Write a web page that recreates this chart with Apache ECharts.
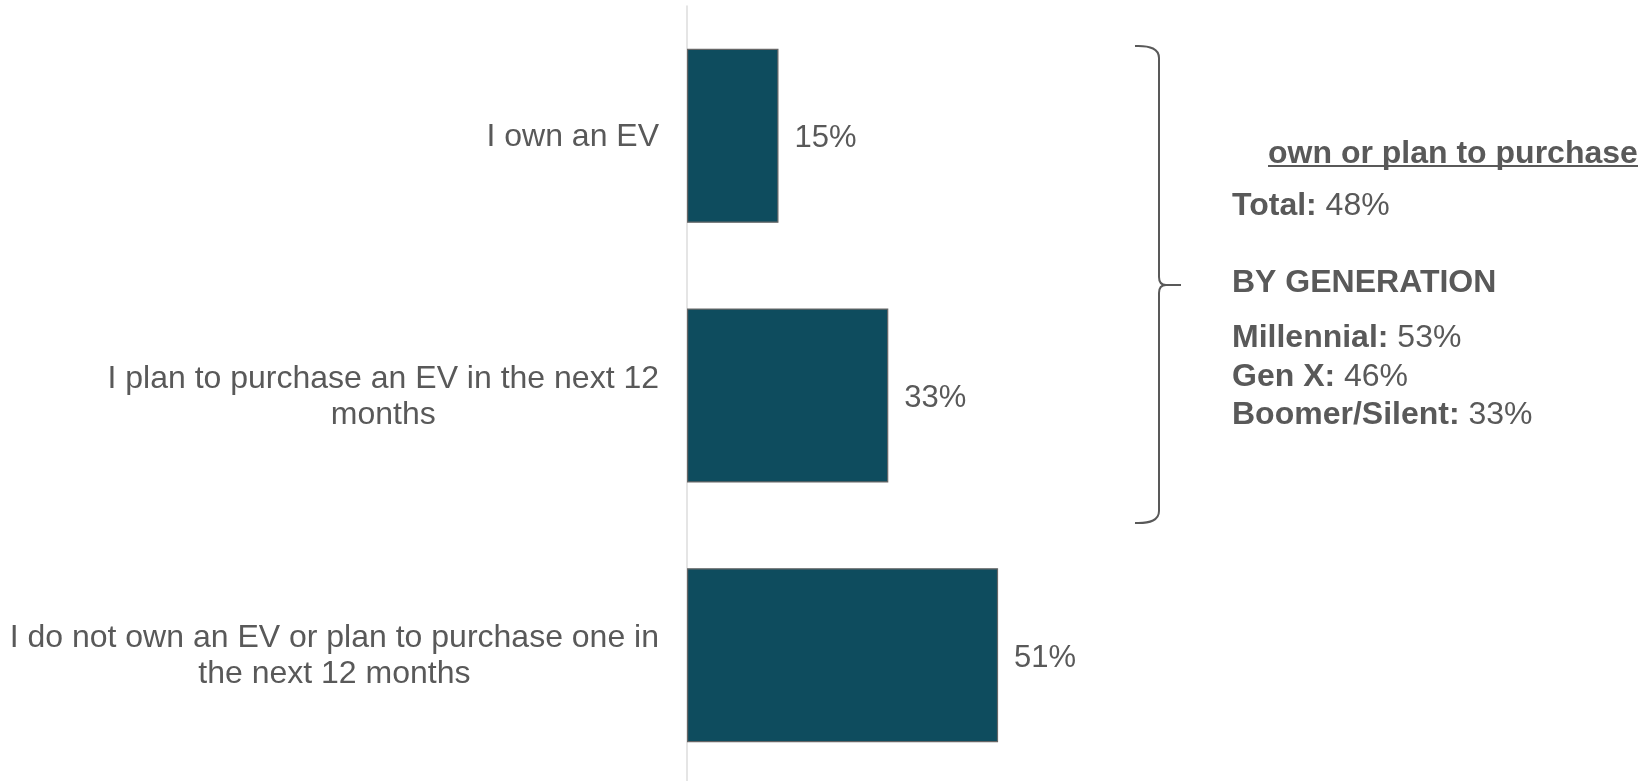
<!DOCTYPE html>
<html>
<head>
<meta charset="utf-8">
<script src="https://cdn.jsdelivr.net/npm/echarts@6/dist/echarts.min.js"></script>
<style>
  html, body { margin: 0; padding: 0; background: #ffffff; }
  #chart { width: 1651px; height: 781px; }
</style>
</head>
<body>
<div id="chart"></div>
<script>
// EV ownership / purchase intent
const categories = [
  'I own an EV',
  'I plan to purchase an EV in the next 12\nmonths',
  'I do not own an EV or plan to purchase one in\nthe next 12 months'
];
const shares = [15, 33, 51];

// Side panel: combined "own or plan to purchase" figures
const panelHeading = 'own or plan to purchase';
const totalShare = 48;
const generationHeading = 'BY GENERATION';
const generations = ['Millennial', 'Gen X', 'Boomer/Silent'];
const generationShares = [53, 46, 33];

const FONT = '"Liberation Sans", Arial, Helvetica, sans-serif';
const GREY = '#595959';

const chart = echarts.init(document.getElementById('chart'), null, { renderer: 'canvas' });

// Each wrapped category line is centred within its label block
function centredLines(value) {
  return value.split('\n').map(function (line) { return '{c|' + line + '}'; }).join('\n');
}

function sideText(boldPart, plainPart, y) {
  return {
    type: 'text',
    left: 1232,
    top: y - 14,
    style: {
      text: '{b|' + boldPart + '}' + (plainPart ? '{r| ' + plainPart + '}' : ''),
      rich: {
        b: { fontFamily: FONT, fontSize: 32, fontWeight: 'bold', fill: GREY, color: GREY, lineHeight: 36 },
        r: { fontFamily: FONT, fontSize: 32, fill: GREY, color: GREY, lineHeight: 36 }
      }
    }
  };
}

const braceStyle = { fill: 'none', stroke: GREY, lineWidth: 2 };

const graphics = [
  // curly brace grouping the first two bars
  { type: 'bezierCurve', shape: { x1: 1135, y1: 46, cpx1: 1159, cpy1: 45, x2: 1159, y2: 58 }, style: braceStyle },
  { type: 'line', shape: { x1: 1159, y1: 58, x2: 1159, y2: 277 }, style: braceStyle },
  { type: 'bezierCurve', shape: { x1: 1159, y1: 277, cpx1: 1159, cpy1: 285, x2: 1166, y2: 285 }, style: braceStyle },
  { type: 'line', shape: { x1: 1166, y1: 285, x2: 1181, y2: 285 }, style: braceStyle },
  { type: 'bezierCurve', shape: { x1: 1166, y1: 285, cpx1: 1159, cpy1: 285, x2: 1159, y2: 293 }, style: braceStyle },
  { type: 'line', shape: { x1: 1159, y1: 293, x2: 1159, y2: 511 }, style: braceStyle },
  { type: 'bezierCurve', shape: { x1: 1159, y1: 511, cpx1: 1159, cpy1: 524, x2: 1135, y2: 523 }, style: braceStyle },
  {
    type: 'text',
    left: 1268,
    top: 152 - 14,
    style: {
      text: panelHeading,
      font: 'bold 32px ' + FONT,
      fill: GREY
    }
  },
  {
    type: 'line',
    shape: { x1: 1268, y1: 166, x2: 1638, y2: 166 },
    style: { stroke: GREY, lineWidth: 2 }
  },
  sideText('Total:', totalShare + '%', 204),
  sideText(generationHeading, '', 281)
];

const generationY = [336, 375, 413];
generations.forEach(function (g, i) {
  graphics.push(sideText(g + ':', generationShares[i] + '%', generationY[i]));
});

chart.setOption({
  animation: false,
  backgroundColor: '#ffffff',
  grid: {
    left: 687, top: 6, width: 610, height: 779,
    containLabel: false,
    outerBoundsMode: 'none'
  },
  xAxis: {
    type: 'value',
    min: 0,
    max: 100,
    show: false
  },
  yAxis: {
    type: 'category',
    data: categories,
    inverse: true,
    axisTick: { show: false },
    axisLine: { show: true, lineStyle: { color: '#dcdcdc', width: 1.5 } },
    axisLabel: {
      margin: 28,
      align: 'right',
      formatter: centredLines,
      rich: {
        c: { align: 'center', fontFamily: FONT, fontSize: 32, color: GREY, lineHeight: 36, padding: [3, 0, 0, 0] }
      }
    }
  },
  series: [{
    type: 'bar',
    data: shares,
    barCategoryGap: '33%',
    itemStyle: { color: '#0E4C5E', borderColor: '#666666', borderWidth: 1.2 },
    label: {
      show: true,
      position: 'right',
      distance: 16,
      offset: [0, 3],
      formatter: '{c}%',
      fontFamily: FONT,
      fontSize: 31,
      color: GREY
    }
  }],
  graphic: graphics
});
</script>
</body>
</html>
